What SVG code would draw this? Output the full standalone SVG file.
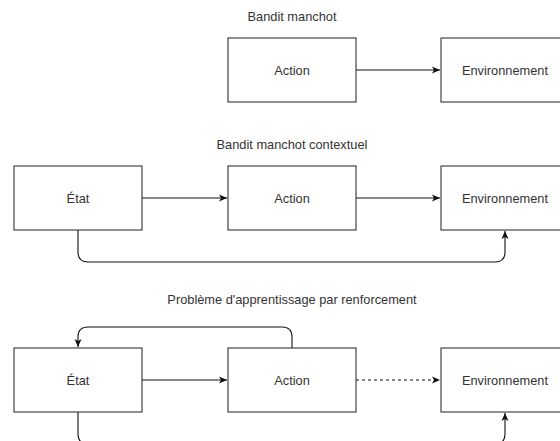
<svg xmlns="http://www.w3.org/2000/svg" width="560" height="441" viewBox="0 0 560 441">
  <style>
    .box { fill: #ffffff; stroke: #333333; stroke-width: 1.1; }
    .lbl { font-family: "Liberation Sans", Arial, sans-serif; font-size: 12.8px; fill: #333333; text-anchor: middle; }
    .edge { fill: none; stroke: #111111; stroke-width: 1.1; }
    .dash { stroke-dasharray: 3 3; }
  </style>
  <defs>
    <marker id="arrow" markerUnits="userSpaceOnUse" markerWidth="10" markerHeight="10" refX="8" refY="4" orient="auto">
      <path d="M0,0.5 L8,4 L0,7.5 L2,4 Z" fill="#111111"/>
    </marker>
  </defs>

  <rect width="560" height="441" fill="#ffffff"/>

  <!-- section titles -->
  <text class="lbl" x="292" y="21">Bandit manchot</text>
  <text class="lbl" x="292" y="149">Bandit manchot contextuel</text>
  <text class="lbl" x="292" y="304">Problème d'apprentissage par renforcement</text>

  <!-- connectors -->
  <g id="connectors">
    <path class="edge" d="M356,70 H440" marker-end="url(#arrow)"/>

    <path class="edge" d="M142,198 H227" marker-end="url(#arrow)"/>
    <path class="edge" d="M356,198 H440" marker-end="url(#arrow)"/>
    <path class="edge" d="M78,230 V252 Q78,262 88,262 H495 Q505,262 505,252 V231" marker-end="url(#arrow)"/>

    <path class="edge" d="M292,348 V337 Q292,327 282,327 H88 Q78,327 78,337 V347" marker-end="url(#arrow)"/>
    <path class="edge" d="M142,380 H227" marker-end="url(#arrow)"/>
    <path class="edge dash" d="M356,380 H440" marker-end="url(#arrow)"/>
    <path class="edge" d="M78,412 V434 Q78,444 88,444 H495 Q505,444 505,434 V413" marker-end="url(#arrow)"/>
  </g>

  <!-- bandit manchot -->
  <g id="action-1">
    <rect class="box" x="228" y="38" width="128" height="64"/>
    <text class="lbl" x="292" y="74.5">Action</text>
  </g>
  <g id="env-1">
    <rect class="box" x="441" y="38" width="128" height="64"/>
    <text class="lbl" x="505" y="74.5">Environnement</text>
  </g>

  <!-- bandit manchot contextuel -->
  <g id="etat-2">
    <rect class="box" x="14" y="166" width="128" height="64"/>
    <text class="lbl" x="78" y="202.5">État</text>
  </g>
  <g id="action-2">
    <rect class="box" x="228" y="166" width="128" height="64"/>
    <text class="lbl" x="292" y="202.5">Action</text>
  </g>
  <g id="env-2">
    <rect class="box" x="441" y="166" width="128" height="64"/>
    <text class="lbl" x="505" y="202.5">Environnement</text>
  </g>

  <!-- apprentissage par renforcement -->
  <g id="etat-3">
    <rect class="box" x="14" y="348" width="128" height="64"/>
    <text class="lbl" x="78" y="384.5">État</text>
  </g>
  <g id="action-3">
    <rect class="box" x="228" y="348" width="128" height="64"/>
    <text class="lbl" x="292" y="384.5">Action</text>
  </g>
  <g id="env-3">
    <rect class="box" x="441" y="348" width="128" height="64"/>
    <text class="lbl" x="505" y="384.5">Environnement</text>
  </g>
</svg>
